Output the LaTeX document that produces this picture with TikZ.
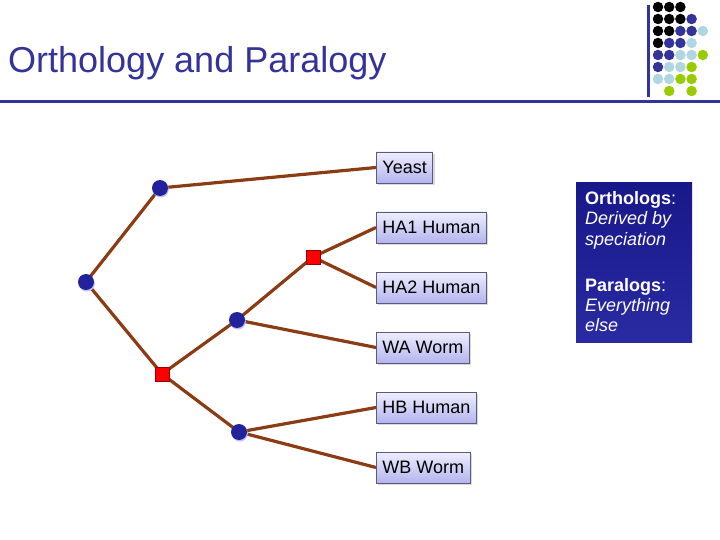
\documentclass[tikz,border=0pt]{standalone}
\usepackage{fontspec}
\setmainfont{Liberation Sans}
\usetikzlibrary{shadows}
\definecolor{titleblue}{HTML}{333399}
\definecolor{edgebrown}{HTML}{8C3C14}
\definecolor{dotblue}{HTML}{22229A}
\definecolor{boxtop}{HTML}{EEEEFF}
\definecolor{boxbot}{HTML}{B4B4EE}
\definecolor{boxline}{HTML}{5A5A80}
\definecolor{panelA}{HTML}{18188A}
\definecolor{panelB}{HTML}{2A2AA2}
\definecolor{gK}{HTML}{000000}
\definecolor{gB}{HTML}{333399}
\definecolor{gL}{HTML}{B0D6E2}
\definecolor{gG}{HTML}{99CC00}
\pgfdeclarelayer{background}
\pgfsetlayers{background,main}
\tikzset{
  leafbox/.style={anchor=west, draw=boxline, line width=0.8pt, top color=boxtop, bottom color=boxbot,
    minimum height=31pt, inner xsep=6pt, inner ysep=0pt, font=\fontsize{18}{21}\selectfont,
    drop shadow={shadow xshift=2pt, shadow yshift=-2pt, fill=black!25, opacity=0.6}},
  spec/.style={circle, fill=dotblue, minimum size=16pt, inner sep=0pt,
    drop shadow={shadow xshift=0.8pt, shadow yshift=-1.5pt, fill=blue!25, opacity=1}},
  dup/.style={rectangle, fill=red, draw=red!60!black, line width=0.6pt, minimum size=14pt, inner sep=0pt},
  edge/.style={draw=edgebrown, line width=3.2pt},
  paneltxt/.style={anchor=base west, text=white, inner sep=0pt, font=\fontsize{18}{21}\selectfont},
  gdot/.style={circle, fill=#1, minimum size=10.5pt, inner sep=0pt}
}
\begin{document}
\begin{tikzpicture}[x=1pt,y=-1pt]
\useasboundingbox (0,0) rectangle (720,540);
% title
\node[anchor=base west, inner sep=0pt, text=titleblue, font=\fontsize{36}{40}\selectfont] (title) at (8,73) {Orthology and Paralogy};
\draw[titleblue, line width=3pt] (0,102) coordinate (rl) -- (720,102) coordinate (rr);
\draw[titleblue, line width=3pt] (648,5) coordinate (vt) -- (648,97) coordinate (vb);
% dot grid
\foreach \row/\cols [count=\r] in {1/{1/gK,2/gK,3/gK}, 2/{1/gK,2/gK,3/gK,4/gB}, 3/{1/gK,2/gK,3/gB,4/gB,5/gL},
  4/{1/gK,2/gB,3/gB,4/gL}, 5/{1/gB,2/gB,3/gL,4/gL,5/gG}, 6/{1/gB,2/gL,3/gL,4/gG}, 7/{1/gL,2/gL,3/gG,4/gG}, 8/{2/gG,4/gG}}{
  \foreach \c/\col in \cols {
    \node[gdot=\col] (g\r-\c) at ({658+11.2*(\c-1)}, {7+12*(\r-1)}) {};
  }
}
% leaf boxes
\node[leafbox] (yeast) at (376,167.5) {Yeast};
\node[leafbox] (ha1) at (376,227.5) {HA1 Human};
\node[leafbox] (ha2) at (376,287.5) {HA2 Human};
\node[leafbox] (wa) at (376,347.5) {WA Worm};
\node[leafbox] (hb) at (376,407.5) {HB Human};
\node[leafbox] (wb) at (376,467.5) {WB Worm};
% internal nodes
\node[spec] (root) at (86,282) {};
\node[spec] (s1) at (160,188) {};
\node[dup] (d1) at (162,374) {};
\node[spec] (s2) at (237,320) {};
\node[dup] (d2) at (313,257) {};
\node[spec] (s3) at (239,432) {};
\begin{pgfonlayer}{background}
\path[edge] (root.center) -- (s1.center);
\path[edge] (root.center) -- (d1.center);
\path[edge] (s1.center) -- (yeast.west);
\path[edge] (d1.center) -- (s2.center);
\path[edge] (d1.center) -- (s3.center);
\path[edge] (s2.center) -- (d2.center);
\path[edge] (s2.center) -- (wa.west);
\path[edge] (d2.center) -- (ha1.west);
\path[edge] (d2.center) -- (ha2.west);
\path[edge] (s3.center) -- (hb.west);
\path[edge] (s3.center) -- (wb.west);
\end{pgfonlayer}
% panel
\node[anchor=north west, minimum width=116pt, minimum height=160pt, inner sep=0pt, top color=panelA, bottom color=panelB] (panel) at (576,182) {};
\node[paneltxt] (t1) at (585,205) {\textbf{Orthologs}:};
\node[paneltxt] (t2) at (585,225) {\textit{Derived by}};
\node[paneltxt] (t3) at (585,245) {\textit{speciation}};
\node[paneltxt] (t4) at (585,291) {\textbf{Paralogs}:};
\node[paneltxt] (t5) at (585,311) {\textit{Everything}};
\node[paneltxt] (t6) at (585,331) {\textit{else}};
\end{tikzpicture}
\end{document}
